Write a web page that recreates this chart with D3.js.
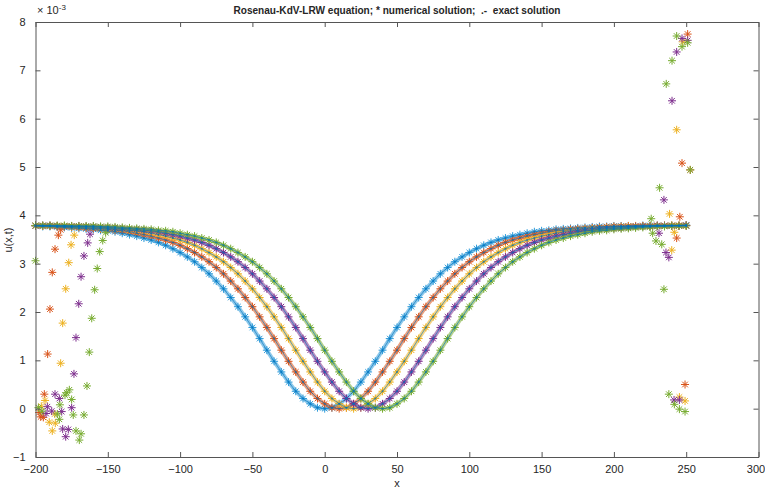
<!DOCTYPE html>
<html>
<head>
<meta charset="utf-8">
<title>Rosenau-KdV-LRW</title>
<style>
  html, body { margin: 0; padding: 0; background: #fff; }
  text { font-family: "Liberation Sans Narrow", "Liberation Sans", Arial, sans-serif; fill: #262626; }
</style>
<script src="https://d3js.org/d3.v7.min.js"></script>
</head>
<body>
<div id="chart"></div>
<script>
// x grid of the solution: -200 .. 250, step 5
var xStart = -200, xStep = 5;
var xTicks = [-200, -150, -100, -50, 0, 50, 100, 150, 200, 250, 300];
var yTicks = [-1, 0, 1, 2, 3, 4, 5, 6, 7, 8];

// u(x,t) * 1e3, one array per time level
var blueVals = [3.78,3.77,3.77,3.76,3.75,3.74,3.73,3.72,3.71,3.69,3.68,3.66,3.63,3.60,3.57,3.53,3.49,3.44,3.38,3.31,
  3.23,3.14,3.04,2.92,2.79,2.64,2.48,2.30,2.11,1.90,1.68,1.45,1.21,0.98,0.76,0.55,0.36,0.21,0.10,0.02,
  0.00,0.02,0.10,0.21,0.36,0.55,0.76,0.98,1.21,1.45,1.68,1.90,2.11,2.30,2.48,2.64,2.79,2.92,3.04,3.14,
  3.23,3.31,3.38,3.44,3.49,3.53,3.57,3.60,3.63,3.66,3.68,3.69,3.71,3.72,3.73,3.74,3.75,3.76,3.77,3.77,
  3.78,3.78,3.78,3.78,3.79,3.79,3.79,3.79,3.79,3.79,3.80];
var orangeVals = [3.78,3.78,3.78,3.77,3.77,3.76,3.75,3.74,3.73,3.72,3.71,3.69,3.68,3.66,3.63,3.60,3.57,3.53,3.49,3.44,
  3.38,3.31,3.23,3.14,3.04,2.92,2.79,2.64,2.48,2.30,2.11,1.90,1.68,1.45,1.21,0.98,0.76,0.55,0.36,0.21,
  0.10,0.02,0.00,0.02,0.10,0.21,0.36,0.55,0.76,0.98,1.21,1.45,1.68,1.90,2.11,2.30,2.48,2.64,2.79,2.92,
  3.04,3.14,3.23,3.31,3.38,3.44,3.49,3.53,3.57,3.60,3.63,3.66,3.68,3.69,3.71,3.72,3.73,3.74,3.75,3.76,
  3.77,3.77,3.78,3.78,3.78,3.78,3.79,3.79,3.79,3.79,3.79];
var yellowVals = [3.79,3.78,3.78,3.78,3.78,3.77,3.77,3.76,3.75,3.74,3.73,3.72,3.71,3.69,3.68,3.66,3.63,3.60,3.57,3.53,
  3.49,3.44,3.38,3.31,3.23,3.14,3.04,2.92,2.79,2.64,2.48,2.30,2.11,1.90,1.68,1.45,1.21,0.98,0.76,0.55,
  0.36,0.21,0.10,0.02,0.00,0.02,0.10,0.21,0.36,0.55,0.76,0.98,1.21,1.45,1.68,1.90,2.11,2.30,2.48,2.64,
  2.79,2.92,3.04,3.14,3.23,3.31,3.38,3.44,3.49,3.53,3.57,3.60,3.63,3.66,3.68,3.69,3.71,3.72,3.73,3.74,
  3.75,3.76,3.77,3.77,3.78,3.78,3.78,3.78,3.79,3.79,3.79];
var purpleVals = [3.79,3.79,3.79,3.78,3.78,3.78,3.78,3.77,3.77,3.76,3.75,3.74,3.73,3.72,3.71,3.69,3.68,3.66,3.63,3.60,
  3.57,3.53,3.49,3.44,3.38,3.31,3.23,3.14,3.04,2.92,2.79,2.64,2.48,2.30,2.11,1.90,1.68,1.45,1.21,0.98,
  0.76,0.55,0.36,0.21,0.10,0.02,0.00,0.02,0.10,0.21,0.36,0.55,0.76,0.98,1.21,1.45,1.68,1.90,2.11,2.30,
  2.48,2.64,2.79,2.92,3.04,3.14,3.23,3.31,3.38,3.44,3.49,3.53,3.57,3.60,3.63,3.66,3.68,3.69,3.71,3.72,
  3.73,3.74,3.75,3.76,3.77,3.77,3.78,3.78,3.78,3.78,3.79];
var greenVals = [3.79,3.79,3.79,3.79,3.79,3.78,3.78,3.78,3.78,3.77,3.77,3.76,3.75,3.74,3.73,3.72,3.71,3.69,3.68,3.66,
  3.63,3.60,3.57,3.53,3.49,3.44,3.38,3.31,3.23,3.14,3.04,2.92,2.79,2.64,2.48,2.30,2.11,1.90,1.68,1.45,
  1.21,0.98,0.76,0.55,0.36,0.21,0.10,0.02,0.00,0.02,0.10,0.21,0.36,0.55,0.76,0.98,1.21,1.45,1.68,1.90,
  2.11,2.30,2.48,2.64,2.79,2.92,3.04,3.14,3.23,3.31,3.38,3.44,3.49,3.53,3.57,3.60,3.63,3.66,3.68,3.69,
  3.71,3.72,3.73,3.74,3.75,3.76,3.77,3.77,3.78,3.78,3.78];

// scattered numerical values near both boundaries [x, u*1e3]
var orangeEdge = [[-182.6,3.70],[-184.2,3.59],[-186.5,3.30],[-188.4,2.82],[-190,2.06],[-191.6,1.13],[-193.9,0.30],
  [-194.6,-0.18],[-196.4,-0.17],[-197.5,-0.08],
  [251,7.75],[247.1,5.08],[252.8,4.94],[245.6,3.97],[243.4,3.53],[249.2,0.50]];
var yellowEdge = [[-173.2,3.59],[-175.4,3.39],[-177,3.02],[-179.1,2.48],[-181.2,1.77],[-182.6,0.94],[-193.4,0.17],
  [-196,0.05],[-186.7,-0.11],[-190.5,-0.28],[-186.3,-0.30],[-188.4,-0.46],
  [247.6,7.59],[243.4,5.77],[238.5,4.03],[241.8,3.65],[240,3.28],[245.3,0.24],[249.2,0.16]];
var purpleEdge = [[-162.3,3.61],[-163.9,3.43],[-166.5,3.16],[-168.5,2.73],[-170.1,2.17],[-172,1.47],[-173.4,0.72],
  [-186.5,0.30],[-183.5,0.21],[-191.8,0.04],[-188.8,-0.05],[-192.7,-0.10],[-181.9,-0.06],[-175,0.02],
  [-181.2,-0.42],[-177.3,-0.43],[-179.1,-0.58],
  [247.1,7.66],[251,7.62],[243.4,7.38],[240.2,6.37],[234.6,4.32],[231.2,3.63],[236,3.23],[238,3.13],
  [241.6,0.18],[245.3,0.18]];
var greenEdge = [[-151.5,3.64],[-153.5,3.48],[-155.6,3.25],[-157.3,2.90],[-159.1,2.46],[-161.1,1.87],[-162.8,1.17],
  [-164.4,0.47],[-178.4,0.33],[-176.6,0.39],[-179.6,0.28],[-175,0.19],[-183.1,0.08],[-173.9,-0.13],
  [-166.5,-0.13],[-184.9,-0.11],[-183.5,-0.22],[-172,-0.46],[-168.5,-0.52],[-169.7,-0.65],
  [-198,0.02],[-195.5,-0.05],[-200,3.06],
  [243.4,7.71],[251,7.57],[247.1,7.49],[240.2,7.20],[236.2,6.72],[252.8,4.94],[231.6,4.57],[225.8,3.93],
  [226.8,3.63],[229.1,3.47],[233.1,3.40],[234.6,2.47],[238,0.30],[241.8,0.09],[245.3,-0.01],[249.2,-0.06]];

var series = [
  { vals: blueVals, edge: [], color: "#2f9bd9" },
  { vals: orangeVals, edge: orangeEdge, color: "#d95319" },
  { vals: yellowVals, edge: yellowEdge, color: "#edb120" },
  { vals: purpleVals, edge: purpleEdge, color: "#7e2f8e" },
  { vals: greenVals, edge: greenEdge, color: "#77ac30" }
];
var exactColor = "#0072bd";

var w = 765, h = 490;
var x = d3.scaleLinear().domain([-200, 300]).range([35.5, 758.5]);
var y = d3.scaleLinear().domain([-1, 8]).range([457, 22]);

var svg = d3.select("#chart").append("svg").attr("width", w).attr("height", h);

var star = "M-4,0H4M0,-4V4M-2.8,-2.8L2.8,2.8M-2.8,2.8L2.8,-2.8";
var line = d3.line().x(function(d) { return x(d[0]); }).y(function(d) { return y(d[1]); });

series.forEach(function(s) {
  var pts = s.vals.map(function(v, i) { return [xStart + i * xStep, v]; });
  var all = pts.concat(s.edge);
  var g = svg.append("g");
  // band of overlapping markers
  g.append("path")
    .attr("d", line(pts))
    .attr("fill", "none")
    .attr("stroke", s.color)
    .attr("stroke-opacity", 0.55)
    .attr("stroke-width", 4);
  g.selectAll(".mk")
    .data(all)
    .enter()
    .append("path")
    .attr("class", "mk")
    .attr("d", star)
    .attr("transform", function(d) { return "translate(" + x(d[0]) + "," + y(d[1]) + ")"; })
    .attr("fill", "none")
    .attr("stroke", s.color)
    .attr("stroke-width", 1);
});

// exact solutions: '.-'
series.forEach(function(s) {
  var pts = s.vals.map(function(v, i) { return [xStart + i * xStep, v]; });
  svg.append("path")
    .attr("d", line(pts))
    .attr("fill", "none")
    .attr("stroke", exactColor)
    .attr("stroke-opacity", 0.6)
    .attr("stroke-width", 1);
  svg.append("g").selectAll("circle")
    .data(pts)
    .enter()
    .append("circle")
    .attr("cx", function(d) { return x(d[0]); })
    .attr("cy", function(d) { return y(d[1]); })
    .attr("r", 1)
    .attr("fill", exactColor)
    .attr("fill-opacity", 0.7);
});

// axes box
var axisColor = "#555";
var axBottom = svg.append("g").attr("transform", "translate(0,457)")
  .call(d3.axisBottom(x).tickValues(xTicks).tickSize(-5).tickSizeOuter(0).tickPadding(8));
var axTop = svg.append("g").attr("transform", "translate(0,22)")
  .call(d3.axisTop(x).tickValues(xTicks).tickSize(-5).tickSizeOuter(0).tickFormat(""));
var axLeft = svg.append("g").attr("transform", "translate(35.5,0)")
  .call(d3.axisLeft(y).tickValues(yTicks).tickSize(-5).tickSizeOuter(0).tickPadding(10));
var axRight = svg.append("g").attr("transform", "translate(758.5,0)")
  .call(d3.axisRight(y).tickValues(yTicks).tickSize(-5).tickSizeOuter(0).tickFormat(""));
[axBottom, axTop, axLeft, axRight].forEach(function(a) {
  a.selectAll("path, line").attr("stroke", axisColor);
  a.selectAll("text").attr("font-size", 11).attr("fill", "#262626")
    .style("font-family", '"Liberation Sans Narrow", "Liberation Sans", Arial, sans-serif');
});
// keep the last x label inside the window
axBottom.selectAll(".tick text").filter(function(d) { return d === 300; }).attr("dx", -3);

// exponent
var ex = svg.append("text").attr("x", 37).attr("y", 14).attr("font-size", 11);
ex.append("tspan").text("\u00d7 10");
ex.append("tspan").attr("dy", -4).attr("font-size", 8).text("-3");

svg.append("text")
  .attr("x", 397).attr("y", 14)
  .attr("text-anchor", "middle")
  .attr("font-size", 11)
  .attr("font-weight", "bold")
  .attr("textLength", 327)
  .attr("lengthAdjust", "spacingAndGlyphs")
  .style("white-space", "pre")
  .text("Rosenau-KdV-LRW equation; * numerical solution;  .-  exact solution");

svg.append("text")
  .attr("x", 397).attr("y", 487)
  .attr("text-anchor", "middle")
  .attr("font-size", 11)
  .text("x");

svg.append("text")
  .attr("transform", "translate(12,240) rotate(-90)")
  .attr("text-anchor", "middle")
  .attr("font-size", 11)
  .text("u(x,t)");
</script>
</body>
</html>
